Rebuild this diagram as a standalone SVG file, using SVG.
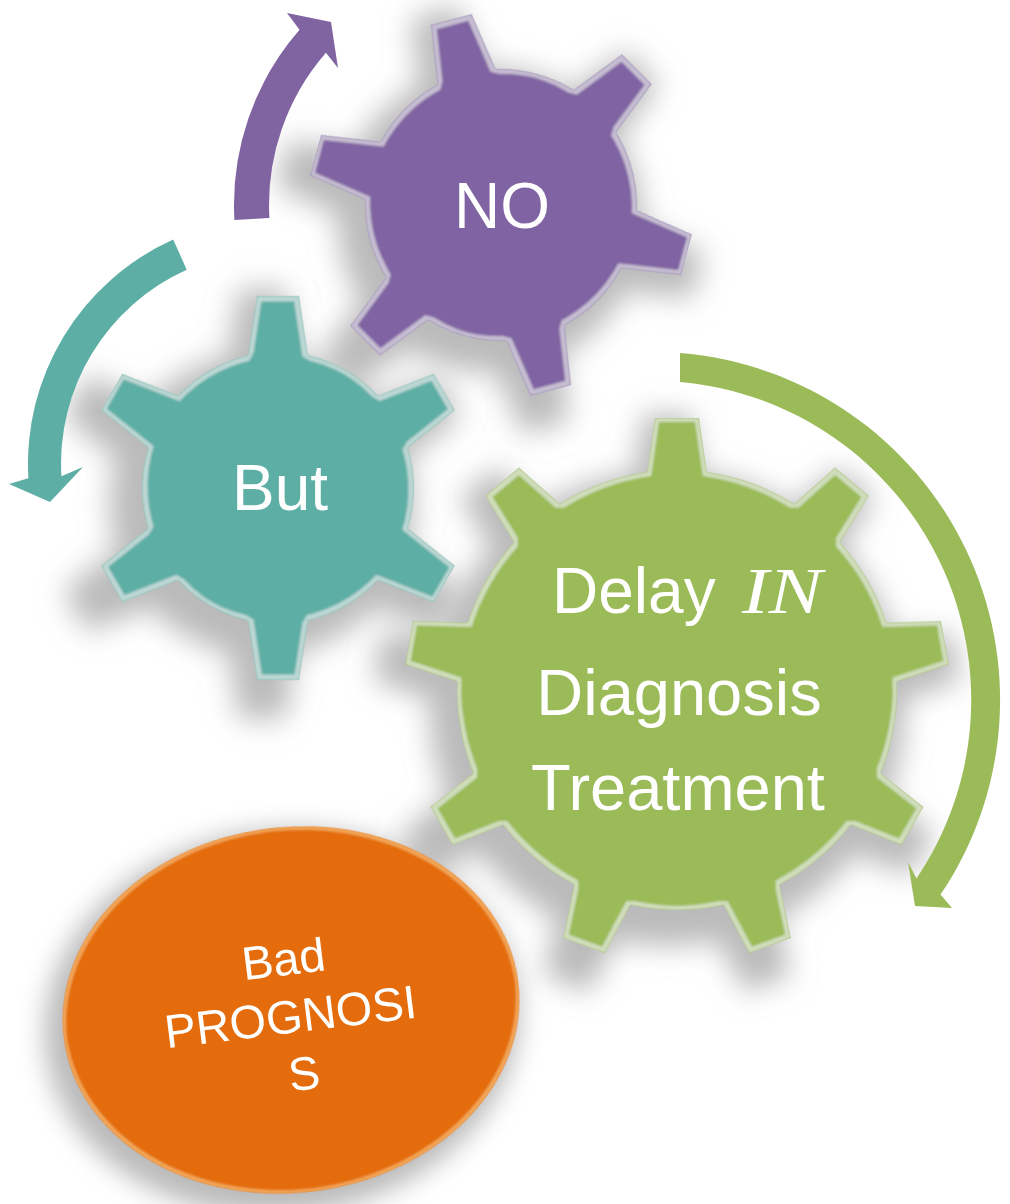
<svg xmlns="http://www.w3.org/2000/svg" width="1010" height="1204" viewBox="0 0 1010 1204">
  <defs>
    <style>
      .lbl { font-family: "Liberation Sans", Arial, sans-serif; fill: #ffffff; text-anchor: middle; }
      .shadow { fill: #8c8c8c; opacity: 0.6; filter: url(#soft); }
    </style>
    <!-- soft drop shadow behind each shape -->
    <filter id="soft" x="-30%" y="-30%" width="160%" height="160%">
      <feGaussianBlur stdDeviation="13"/>
    </filter>
    <!-- light bevelled rim along the outline -->
    <filter id="bevel" x="-5%" y="-5%" width="110%" height="110%">
      <feMorphology in="SourceAlpha" operator="erode" radius="3.5" result="inner"/>
      <feComposite in="SourceAlpha" in2="inner" operator="out" result="rim"/>
      <feGaussianBlur in="rim" stdDeviation="0.8" result="rimSoft"/>
      <feFlood flood-color="#ffffff" flood-opacity="0.45"/>
      <feComposite in2="rimSoft" operator="in" result="light"/>
      <feComposite in="light" in2="SourceAlpha" operator="in" result="lightIn"/>
      <feMerge>
        <feMergeNode in="SourceGraphic"/>
        <feMergeNode in="lightIn"/>
      </feMerge>
    </filter>
    <!-- faint warm rim for the oval -->
    <filter id="rimWarm" x="-5%" y="-5%" width="110%" height="110%">
      <feMorphology in="SourceAlpha" operator="erode" radius="3" result="inner"/>
      <feComposite in="SourceAlpha" in2="inner" operator="out" result="rim"/>
      <feGaussianBlur in="rim" stdDeviation="0.8" result="rimSoft"/>
      <feFlood flood-color="#ffd27a" flood-opacity="0.5"/>
      <feComposite in2="rimSoft" operator="in" result="light"/>
      <feComposite in="light" in2="SourceAlpha" operator="in" result="lightIn"/>
      <feMerge>
        <feMergeNode in="SourceGraphic"/>
        <feMergeNode in="lightIn"/>
      </feMerge>
    </filter>
    <!-- six-tooth gear, centred on the origin -->
    <polygon id="toothS" points="126,-31 192,-21 192,21 126,31"/>
    <g id="gear6">
      <circle r="136"/>
      <use href="#toothS"/>
      <use href="#toothS" transform="rotate(60)"/>
      <use href="#toothS" transform="rotate(120)"/>
      <use href="#toothS" transform="rotate(180)"/>
      <use href="#toothS" transform="rotate(240)"/>
      <use href="#toothS" transform="rotate(300)"/>
    </g>
    <!-- nine-tooth gear, centred on the origin -->
    <polygon id="toothL" points="210,-31 272,-22 272,22 210,31"/>
    <g id="gear9">
      <circle r="220"/>
      <use href="#toothL"/>
      <use href="#toothL" transform="rotate(40)"/>
      <use href="#toothL" transform="rotate(80)"/>
      <use href="#toothL" transform="rotate(120)"/>
      <use href="#toothL" transform="rotate(160)"/>
      <use href="#toothL" transform="rotate(200)"/>
      <use href="#toothL" transform="rotate(240)"/>
      <use href="#toothL" transform="rotate(280)"/>
      <use href="#toothL" transform="rotate(320)"/>
    </g>
  </defs>

  <rect width="1010" height="1204" fill="#ffffff"/>

  <!-- shadows -->
  <g id="shadows">
    <use href="#gear6" class="shadow" transform="translate(262,504) rotate(30) scale(1.12)"/>
    <use href="#gear6" class="shadow" transform="translate(490,220) rotate(15) scale(1.12)"/>
    <use href="#gear9" class="shadow" transform="translate(667,708) rotate(-90) scale(1.08)"/>
    <ellipse class="shadow" rx="238" ry="192" transform="translate(282,1022) rotate(-7)"/>
  </g>

  <!-- curved arrows -->
  <g id="connectors">
    <path d="M234.4,219.9 A267,267 0 0,1 299.5,29.8 L287,13 L331,22 L338,68 L325.9,52.8 A232,232 0 0,0 269.4,217.9 Z" fill="#8064A2"/>
    <path d="M173.2,239.6 A246,246 0 0,0 28.4,478.2 L9,484 L50,502 L83,467 L61.4,476.3 A213,213 0 0,1 186.7,269.7 Z" fill="#5DAEA5"/>
    <path d="M680,353 A348,348 0 0,1 940.5,894.6 L952,908 L915,906 L908,862 L916.5,878.4 A319,319 0 0,0 680,382 Z" fill="#9BBB59"/>
  </g>

  <g id="gear-but">
    <use href="#gear6" fill="#5DAEA5" filter="url(#bevel)" transform="translate(278,488) rotate(30)"/>
    <text class="lbl" x="280" y="510" font-size="64">But</text>
  </g>

  <g id="gear-no">
    <use href="#gear6" fill="#8064A2" filter="url(#bevel)" transform="translate(501,205) rotate(15)"/>
    <text class="lbl" x="502" y="228" font-size="64">NO</text>
  </g>

  <g id="gear-delay">
    <use href="#gear9" fill="#9BBB59" filter="url(#bevel)" transform="translate(677,690) rotate(-90)"/>
    <text class="lbl" x="552" y="613" font-size="64" style="text-anchor:start">Delay</text>
    <text x="742" y="613" font-family="'Liberation Serif', 'Times New Roman', serif" font-style="italic" font-size="66" fill="#ffffff" textLength="80" lengthAdjust="spacingAndGlyphs">IN</text>
    <text class="lbl" x="679" y="715" font-size="65">Diagnosis</text>
    <text class="lbl" x="678" y="810" font-size="65">Treatment</text>
  </g>

  <g id="node-prognosis">
    <ellipse rx="229" ry="183" fill="#E46C0A" filter="url(#rimWarm)" transform="translate(291,1010) rotate(-7)"/>
    <g transform="translate(299,1032) rotate(-7)">
      <text class="lbl" font-size="47">
        <tspan x="0" y="-58">Bad</tspan>
        <tspan x="0" y="0">PROGNOSI</tspan>
        <tspan x="0" y="58">S</tspan>
      </text>
    </g>
  </g>
</svg>
